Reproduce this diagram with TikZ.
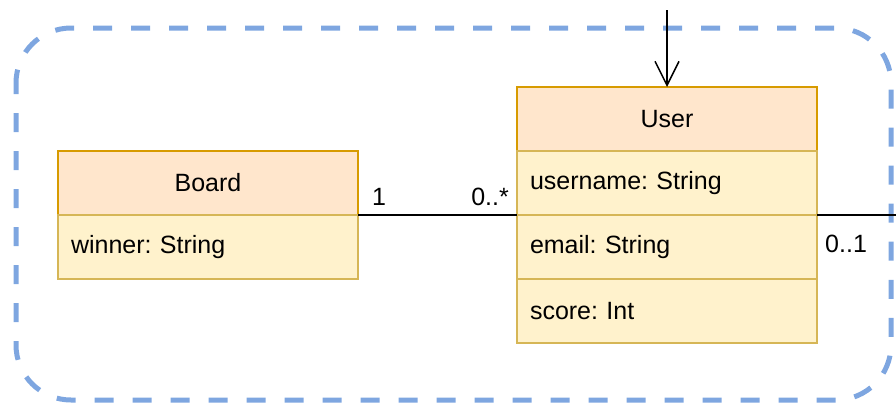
\documentclass[tikz,border=0pt]{standalone}
\usepackage{fontspec}
\setmainfont{Liberation Sans}
\frenchspacing
\usetikzlibrary{arrows.meta,positioning}

\definecolor{headfill}{HTML}{FFE6CC}
\definecolor{headdraw}{HTML}{D79B00}
\definecolor{attrfill}{HTML}{FFF2CC}
\definecolor{attrdraw}{HTML}{D6B656}
\definecolor{groupblue}{HTML}{7EA6E0}

\tikzset{
  every picture/.style = {
    x = 1pt,
    y = -1pt,
    font = \fontsize{25}{30}\selectfont,
  }
  ,
  class-head/.style = {
    rectangle,
    draw = headdraw,
    fill = headfill,
    line width = 1.5pt,
    outer sep = 0pt,
    minimum width = 300pt,
    minimum height = 64pt
  }
  , % attribute rows of a class
  class-attr/.style = {
    rectangle,
    draw = attrdraw,
    fill = attrfill,
    line width = 1.5pt,
    outer sep = 0pt,
    inner xsep = 13pt,
    text width = 274pt,
    align = left,
    minimum height = 64pt
  }
  , % dashed group frame
  group/.style = {
    draw = groupblue,
    line width = 5pt,
    dash pattern = on 19pt off 19pt,
    dash phase = 8pt,
    rounded corners = 55pt
  }
  ,
  assoc/.style = {
    draw,
    line width = 1.5pt
  }
  , % multiplicities
  label-mult/.style = {
    inner sep = 0pt
  }
}

\begin{document}
\begin{tikzpicture}
  \useasboundingbox (0,0) rectangle (896,405);

  \draw[group] (16,28) rectangle (891,400);

  \node [class-head] (board) at (208,183) {Board};
  \node [class-attr, below = 0pt of board] (board-winner) {winner: String};

  \node [class-head] (user) at (667,119) {User};
  \node [class-attr, below = 0pt of user] (user-name) {username: String};
  \node [class-attr, below = 0pt of user-name] (user-email) {email: String};
  \node [class-attr, below = 0pt of user-email] (user-score) {score: Int};

  \coordinate (enter) at (667,10);
  \coordinate (exit) at (896,215);

  \draw[assoc, -{Straight Barb[length=24pt,width=24pt]}] (enter) -- (user.north);
  \draw[assoc] (board.south east) -- (user-name.south west);
  \draw[assoc] (user-name.south east) -- (exit);

  \node [label-mult, anchor=base west] (m-board) at (372,205) {1};
  \node [label-mult, anchor=base east] (m-user) at (509,205) {0..*};
  \node [label-mult, anchor=base west] (m-exit) at (825,252) {0..1};
\end{tikzpicture}
\end{document}
